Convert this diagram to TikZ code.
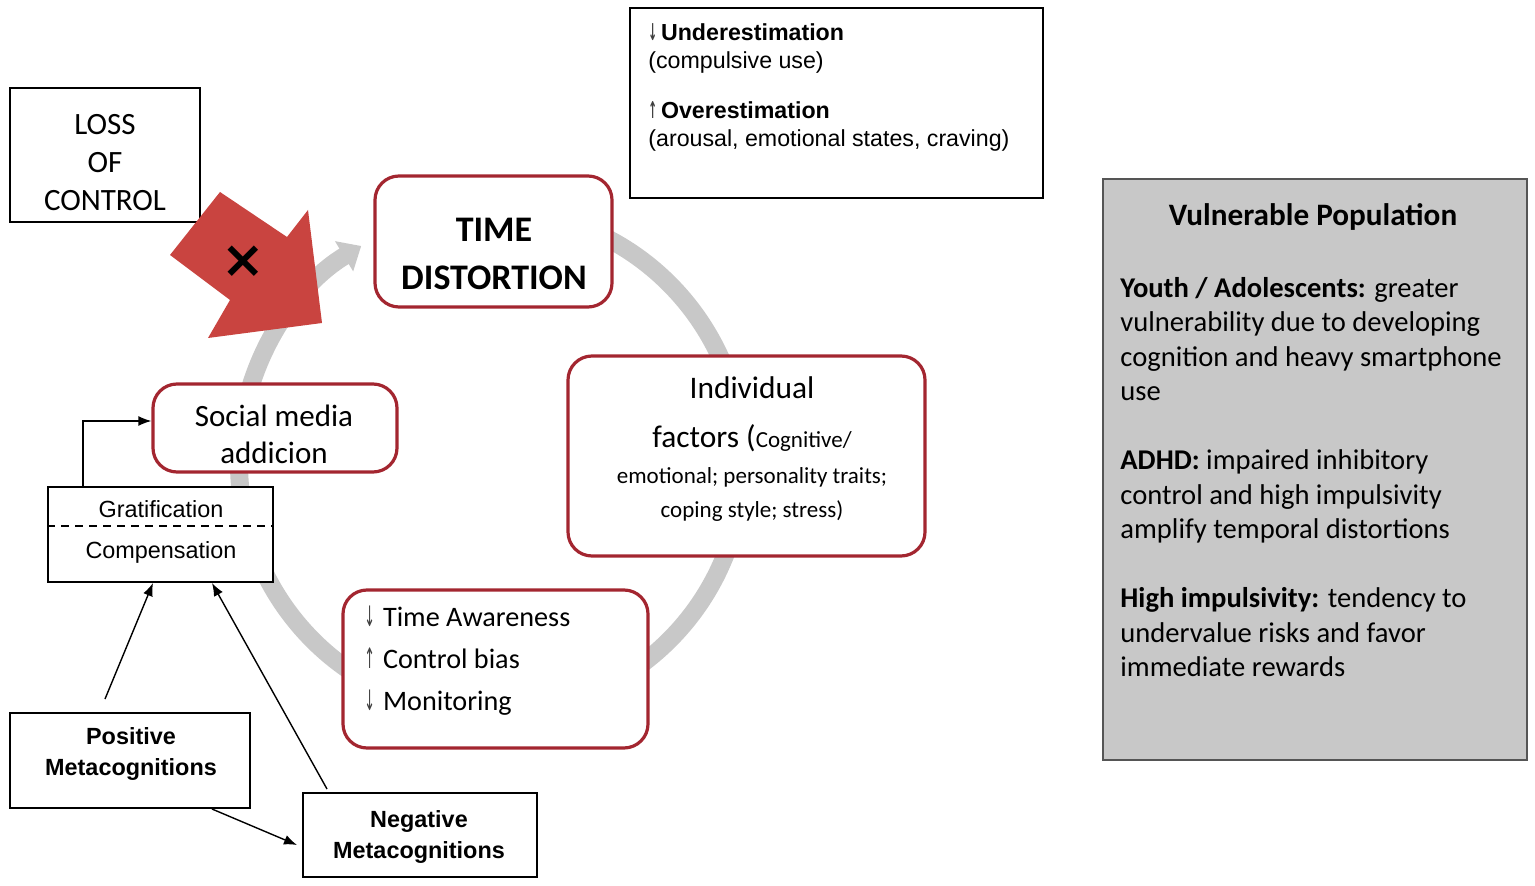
\documentclass[tikz,border=0pt]{standalone}
\usepackage{fontspec}
\usepackage{graphicx}
\setmainfont{Carlito}
\newfontfamily\arialf{Liberation Sans}
\newfontfamily\symf{DejaVu Sans}
\usetikzlibrary{arrows.meta,calc}
\definecolor{boxred}{RGB}{163,38,48}
\definecolor{arrowred}{RGB}{201,68,64}
\definecolor{cyclegray}{RGB}{200,200,200}
\definecolor{panelgray}{RGB}{200,200,200}
\definecolor{panelborder}{RGB}{85,85,85}
\newcommand{\arrdn}{{\symf\color{darkgray}\scalebox{0.45}[1]{↓}}}
\newcommand{\arrup}{{\symf\color{darkgray}\scalebox{0.45}[1]{↑}}}
\begin{document}
\begin{tikzpicture}[x=0.5pt,y=-0.5pt,
  plainbox/.style={draw=black, line width=1pt, fill=white, inner sep=0pt},
  redbox/.style={draw=boxred, line width=1.6pt, fill=white, rounded corners=12pt, inner sep=0pt},
  conn/.style={-{Latex[length=6.5pt,width=5pt]}, line width=0.7pt, black},
  cyclearrow/.style={draw=cyclegray, line width=9pt, -{Triangle[length=10pt,width=17pt]}},
  txt/.style={inner sep=0pt, align=center},
]
\useasboundingbox (0,0) rectangle (1535,886);
\coordinate (c) at (491,462);
% gray cycle arrow
\draw[cyclearrow] ([shift={(-80:252)}]c) arc[start angle=-80,end angle=239,radius=252];

% boxes
\node[plainbox, minimum width=95pt, minimum height=67pt] (loss) at (105,155) {};
\node[plainbox, minimum width=206.5pt, minimum height=95pt] (est) at (836.5,103) {};
\node[redbox, minimum width=118.5pt, minimum height=65.5pt] (time) at (493.5,241.5) {};
\node[redbox, minimum width=178.5pt, minimum height=100pt] (indiv) at (746.5,456) {};
\node[redbox, minimum width=122pt, minimum height=44pt] (social) at (275,428) {};
\node[redbox, minimum width=152.5pt, minimum height=79pt] (aware) at (495.5,669) {};
\node[plainbox, minimum width=112.5pt, minimum height=47.5pt] (grat) at (160.5,534.5) {};
\draw[dashed, dash pattern=on 4pt off 3pt, line width=0.8pt] (grat.west |- 0,526) -- (grat.east |- 0,526);
\node[plainbox, minimum width=120pt, minimum height=47.5pt] (pos) at (130,760.5) {};
\node[plainbox, minimum width=117pt, minimum height=42pt] (neg) at (420,835) {};
\node[draw=panelborder, line width=1.2pt, fill=panelgray, minimum width=212pt, minimum height=290.5pt, inner sep=0pt] (vuln) at (1315,469.5) {};

% red block arrow
\fill[arrowred] (170,255) -- (220,192) -- (287,237) -- (308,210) -- (322,323) -- (208,338) -- (230,300) -- cycle;
\node[txt, font=\symf\bfseries\fontsize{26}{26}\selectfont] (xmark) at (243,262) {×};

% texts
\node[txt, font=\fontsize{15.5}{19}\selectfont] (lossT) at (105,163) {LOSS\\OF\\CONTROL};
\node[txt, align=left, anchor=north west, font=\arialf\fontsize{11.6}{14}\selectfont] (estT) at (648,23)
  {{\bfseries \arrdn\,Underestimation}\\(compulsive use)\\[11pt]
   {\bfseries \arrup\,Overestimation}\\(arousal, emotional states, craving)};
\node[txt, font=\bfseries\fontsize{18}{24}\selectfont] (timeT) at (494,254) {TIME\\DISTORTION};
\node[txt, font=\fontsize{11.5}{17}\selectfont] (indivT) at (752,449)
  {{\fontsize{15.7}{17}\selectfont Individual}\\[7.5pt]
   {\fontsize{15.7}{17}\selectfont factors (}Cognitive/\\[1pt]
   emotional; personality traits;\\
   coping style; stress)};
\node[txt, font=\fontsize{15.5}{18.5}\selectfont] (socialT) at (274,434) {Social media\\addicion};
\node[txt, align=left, anchor=west, font=\fontsize{14.1}{21}\selectfont] (awareT) at (364,661)
  {\arrdn\hspace{4pt}Time Awareness\\\arrup\hspace{4pt}Control bias\\\arrdn\hspace{4pt}Monitoring};
\node[txt, anchor=base, font=\arialf\fontsize{11.7}{13}\selectfont] (gratT) at (161,518) {Gratification};
\node[txt, anchor=base, font=\arialf\fontsize{11.7}{13}\selectfont] (compT) at (161,559) {Compensation};
\node[txt, font=\arialf\bfseries\fontsize{11.7}{15.5}\selectfont] (posT) at (131,754) {Positive\\Metacognitions};
\node[txt, font=\arialf\bfseries\fontsize{11.7}{15.5}\selectfont] (negT) at (419,837) {Negative\\Metacognitions};
\node[txt, anchor=base, font=\bfseries\fontsize{15.6}{17}\selectfont] (vulnTitle) at (1313,226) {Vulnerable Population};
\node[txt, align=left, anchor=north west, font=\fontsize{14.3}{17.25}\selectfont] (vulnT) at (1120,277)
  {\textbf{Youth / Adolescents:} greater\\
   vulnerability due to developing\\
   cognition and heavy smartphone\\
   use\\[17.25pt]
   \textbf{ADHD:} impaired inhibitory\\
   control and high impulsivity\\
   amplify temporal distortions\\[17.25pt]
   \textbf{High impulsivity:} tendency to\\
   undervalue risks and favor\\
   immediate rewards};

% connectors
\draw[conn] ($(grat.north west)+(36,0)$) |- ($(social.west)+(0,-7)$);
\draw[conn] ($(pos.north)+(-25,-13)$) -- ($(grat.south)+(-7.5,0)$);
\draw[conn] ($(neg.north west)+(25,-3)$) -- ($(grat.south)+(51.5,0)$);
\draw[conn] ($(pos.south)+(82,0)$) -- ($(neg.west)+(-5,10)$);
\end{tikzpicture}
\end{document}
